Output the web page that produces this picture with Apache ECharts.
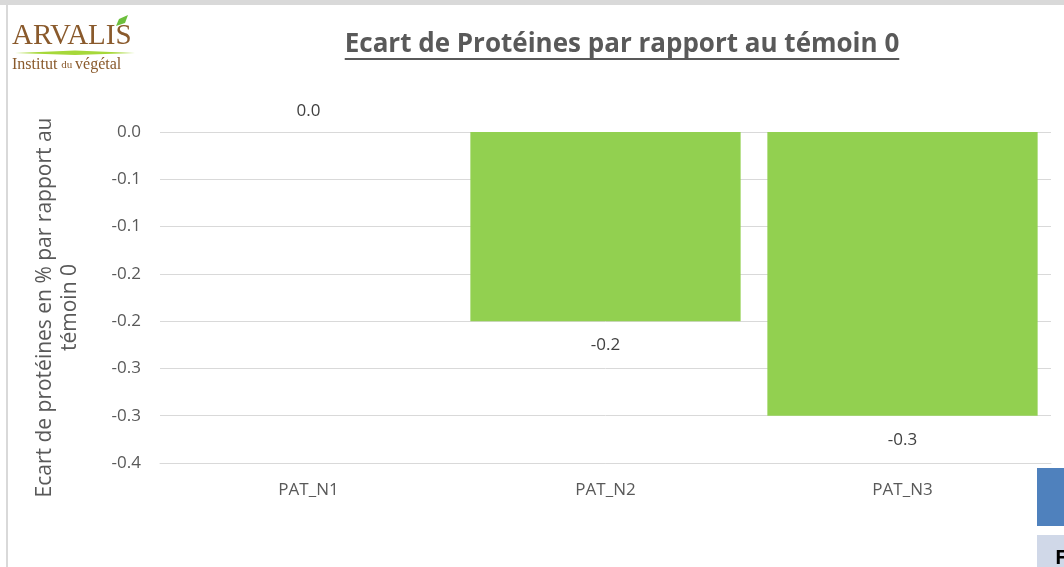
<!DOCTYPE html>
<html>
<head>
<meta charset="utf-8">
<script src="https://cdn.jsdelivr.net/npm/echarts@6/dist/echarts.min.js"></script>
<style>
  html, body { margin: 0; padding: 0; background: #fff; }
  #chart { width: 1064px; height: 567px; }
</style>
</head>
<body>
<div id="chart"></div>
<script>
  // données
  var categories = ['PAT_N1', 'PAT_N2', 'PAT_N3'];
  var ecartProteines = [0.0, -0.2, -0.3];
  var axisMin = -0.35, axisMax = 0, axisStep = 0.05;

  var txt = '#595959';
  var font = 'Open Sans';
  var titre = 'Ecart de Protéines par rapport au témoin 0';
  var titreFont = 'bold 26px "Open Sans"';

  // arrondi façon Excel (0.05 -> 0.1)
  function fmt(v) {
    var r = Math.round(Math.abs(v) * 10 + 1e-7) / 10;
    return (v < 0 && r !== 0 ? '-' : '') + r.toFixed(1);
  }

  // largeur du titre pour le soulignement
  var ctx = document.createElement('canvas').getContext('2d');
  ctx.font = titreFont;
  var wTitre = ctx.measureText(titre).width;
  var cxTitre = 622;

  var chart = echarts.init(document.getElementById('chart'));
  chart.setOption({
    animation: false,
    grid: { left: 160, right: 13, top: 132, bottom: 104 },
    graphic: [
      // cadre gris de la capture
      { type: 'rect', shape: { x: 0, y: 0, width: 1064, height: 5 }, style: { fill: '#d9d9d9' } },
      { type: 'rect', shape: { x: 6, y: 5, width: 2, height: 562 }, style: { fill: '#d9d9d9' } },
      // logo
      { type: 'text', x: 12, y: 22, style: { text: 'ARVALIS', font: '29px "Liberation Serif"', fill: '#8a5a2c' } },
      { type: 'polygon', shape: { points: [[116, 26], [119, 19], [128, 15], [125, 23]] }, style: { fill: '#6cbf3c' } },
      { type: 'polygon', shape: { points: [[15, 53], [75, 50.5], [135, 53], [75, 55]] }, style: { fill: '#a6d83a' } },
      { type: 'text', x: 12, y: 57, style: {
          text: '{a|Institut }{b|du }{a|végétal}',
          rich: {
            a: { font: '16px "Liberation Serif"', fill: '#8a5a2c' },
            b: { font: '11px "Liberation Serif"', fill: '#8a5a2c' }
          }
      } },
      // titre souligné
      { type: 'text', x: cxTitre, y: 32, style: { text: titre, font: titreFont, fill: txt, align: 'center' } },
      { type: 'rect', shape: { x: cxTitre - wTitre / 2, y: 58, width: wTitre, height: 2 }, style: { fill: txt } },
      // morceaux de tableau à droite
      { type: 'rect', shape: { x: 1037, y: 468, width: 27, height: 58 }, style: { fill: '#4f81bd' } },
      { type: 'rect', shape: { x: 1037, y: 535, width: 27, height: 32 }, style: { fill: '#d0d8e8' } },
      { type: 'text', x: 1055, y: 548, style: { text: 'F', font: 'bold 20px "Open Sans"', fill: '#000' } }
    ],
    xAxis: {
      type: 'category',
      data: categories,
      position: 'bottom',
      axisLine: { onZero: false, lineStyle: { color: '#d9d9d9', width: 1 } },
      axisTick: { show: false },
      axisLabel: { color: txt, fontFamily: font, fontSize: 17, margin: 19 }
    },
    yAxis: {
      type: 'value',
      min: axisMin,
      max: axisMax,
      interval: axisStep,
      name: 'Ecart de protéines en % par rapport au\ntémoin 0',
      nameLocation: 'middle',
      nameGap: 77,
      nameTextStyle: { color: txt, fontFamily: font, fontSize: 21, lineHeight: 25, padding: [0, 20, 0, 0] },
      axisLine: { show: false },
      axisTick: { show: false },
      axisLabel: { color: txt, fontFamily: font, fontSize: 17, margin: 19, formatter: fmt },
      splitLine: { lineStyle: { color: '#d9d9d9', width: 1 } }
    },
    series: [{
      type: 'bar',
      data: ecartProteines.map(function (v) {
        return { value: v, label: { position: v < 0 ? 'bottom' : 'top', distance: v < 0 ? 16 : 12 } };
      }),
      barCategoryGap: '9%',
      itemStyle: { color: '#92d050' },
      label: {
        show: true,
        color: '#404040',
        fontFamily: font,
        fontSize: 17,
        formatter: function (p) { return fmt(p.value); }
      }
    }]
  });
</script>
</body>
</html>
